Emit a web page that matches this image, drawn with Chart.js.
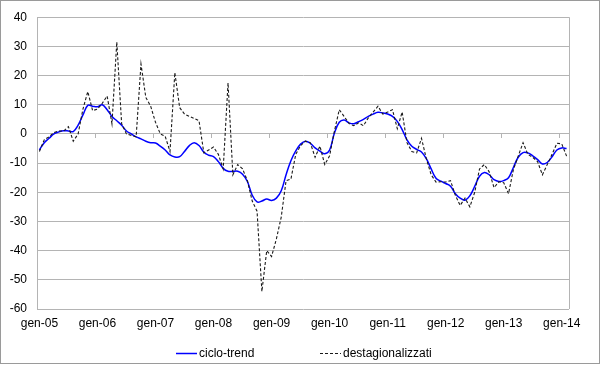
<!DOCTYPE html>
<html>
<head>
<meta charset="utf-8">
<script src="https://cdn.jsdelivr.net/npm/chart.js@4.4.1/dist/chart.umd.min.js"></script>
<style>
  html, body { margin: 0; padding: 0; background: #fff; }
  #wrap { width: 600px; height: 366px; }
</style>
</head>
<body>
<div id="wrap"><canvas id="chart" width="600" height="366"></canvas></div>
<script>
// month names and years used for the category labels
const monthNames = ['gen', 'feb', 'mar', 'apr', 'mag', 'giu', 'lug', 'ago', 'set', 'ott', 'nov', 'dic'];
const years = ['05', '06', '07', '08', '09', '10', '11', '12', '13', '14'];

// values, one per month from gen-05 to feb-14
const cicloTrend = [
  -5.5, -3, -1.5, 0, 0.7, 1.1, 1, 0.8, 3, 6.5, 9.8, 9.5,
  9.3, 10, 8.3, 6, 4.5, 3, 1, 0, -1, -1.7, -2.5, -3,
  -3.1, -4.2, -5.5, -7.2, -7.9, -7.8, -6, -4, -3, -4, -6.3, -7.3,
  -7.8, -9.5, -11.8, -12.8, -12.8, -12.8, -13.8, -16.3, -21, -23.3, -23, -22.3,
  -22.8, -22, -19.5, -14, -9.2, -5.8, -3.5, -2.5, -3.2, -4.8, -5.9, -6.8,
  -5.5, 0.3, 4, 4.8, 3.8, 3.5, 4.2, 5, 6, 6.8, 7.4, 7.2,
  6.8, 6, 4.3, 1.5, -2, -4.2, -5.3, -6.2, -8.5, -12, -15.2, -16.2,
  -17, -17.9, -20.5, -22, -22.7, -21.2, -18, -14.5, -13.2, -14, -15.7, -16.3,
  -16, -15, -11.5, -8, -6.4, -6.5, -7.5, -8.8, -10.3, -9.8, -7.8, -5.5,
  -4.8, -5
];

const destagionalizzati = [
  -6, -2, -1, 0.5, 1, 1, 2.5, -2.5, 0, 8.5, 14.5, 8,
  8.5, 10.5, 13, 3.5, 31.5, 3.5, 0, -0.5, -1, 24, 12.5, 9.5,
  4, 0, -0.8, -6, 21, 9, 6.8, 6, 5.3, 4.5, -6.5, -5.5,
  -4.5, -7, -12, 17.5, -14, -10.5, -12, -16, -23, -26.5, -54, -40,
  -42, -36, -28.5, -16, -15.5, -7, -4, -2.5, -3, -8, -4.2, -10.5,
  -7.5, 1, 8.3, 6, 3.6, 2.8, 3.8, 2.8, 5.5, 7.5, 9.5, 6.8,
  7.5, 8.3, 1.8, 7.5, -3, -6, -6.5, -1.5, -8.5, -14, -16.5, -16.4,
  -16.5, -16, -21, -24.5, -22, -25, -20, -12, -10.5, -13, -18.4, -16.4,
  -16.7, -20.5, -12.2, -7.6, -3, -7, -8, -9.5, -14, -10.5, -7, -3.2,
  -3.4, -7.6
];

const yMin = -60;
const yMax = 40;
const yStep = 10;

// build the month labels (gen-05, feb-05, ...)
const labels = [];
years.forEach(y => {
  monthNames.forEach(m => {
    if (labels.length < cicloTrend.length) labels.push(m + '-' + y);
  });
});

const FONT = "'Liberation Sans', Arial, sans-serif";
const GRID = '#b4b4b4';

Chart.defaults.font.family = FONT;
Chart.defaults.font.size = 12;
Chart.defaults.color = '#000';

// white background, plot frame, tick marks on the zero line, legend, outer border
const excelLook = {
  id: 'excelLook',
  beforeDraw(chart) {
    const ctx = chart.ctx;
    ctx.save();
    ctx.fillStyle = '#fff';
    ctx.fillRect(0, 0, chart.width, chart.height);
    ctx.restore();
  },
  afterDraw(chart) {
    const ctx = chart.ctx;
    const area = chart.chartArea;
    const xs = chart.scales.x;
    const ys = chart.scales.y;
    ctx.save();

    // right edge of the plot area
    ctx.strokeStyle = GRID;
    ctx.lineWidth = 1;
    ctx.beginPath();
    ctx.moveTo(Math.round(area.right) + 0.5, area.top);
    ctx.lineTo(Math.round(area.right) + 0.5, area.bottom);
    ctx.stroke();

    // small tick marks on the zero line, between categories, once a year
    const y0 = Math.round(ys.getPixelForValue(0));
    ctx.beginPath();
    for (let i = 12; i < labels.length; i += 12) {
      const x = Math.round((xs.getPixelForValue(i - 1) + xs.getPixelForValue(i)) / 2) + 0.5;
      ctx.moveTo(x, y0);
      ctx.lineTo(x, y0 + 4);
    }
    ctx.stroke();

    // legend
    const items = [
      { ds: chart.data.datasets[0], x: 176 },
      { ds: chart.data.datasets[1], x: 320 }
    ];
    const ly = 353;
    ctx.font = '12px ' + FONT;
    ctx.textBaseline = 'middle';
    ctx.textAlign = 'left';
    items.forEach(it => {
      ctx.strokeStyle = it.ds.borderColor;
      ctx.lineWidth = it.ds.borderWidth;
      ctx.setLineDash(it.ds.borderDash || []);
      ctx.beginPath();
      ctx.moveTo(it.x, ly + 0.5);
      ctx.lineTo(it.x + 21, ly + 0.5);
      ctx.stroke();
      ctx.setLineDash([]);
      ctx.fillStyle = '#000';
      ctx.fillText(it.ds.label, it.x + 23, ly + 1);
    });

    // outer border of the chart
    ctx.strokeStyle = '#9a9a9a';
    ctx.lineWidth = 1;
    ctx.strokeRect(0.5, 0.5, chart.width - 1, 363);
    ctx.restore();
  }
};

const ctx = document.getElementById('chart').getContext('2d');
new Chart(ctx, {
  type: 'line',
  data: {
    labels: labels,
    datasets: [{
      label: 'ciclo-trend',
      data: cicloTrend,
      borderColor: '#0000ff',
      borderWidth: 1.5,
      tension: 0.4,
      pointRadius: 0,
      order: 1
    }, {
      label: 'destagionalizzati',
      data: destagionalizzati,
      borderColor: '#1a1a1a',
      borderWidth: 1.1,
      borderDash: [3, 2],
      tension: 0,
      pointRadius: 0,
      order: 0
    }]
  },
  options: {
    responsive: false,
    animation: false,
    devicePixelRatio: 1,
    layout: { padding: { top: 16, right: 31, bottom: 32, left: 0 } },
    plugins: {
      legend: { display: false },
      tooltip: { enabled: false }
    },
    scales: {
      x: {
        type: 'category',
        offset: true,
        grid: { display: false, drawTicks: false },
        border: { display: false },
        ticks: {
          autoSkip: false,
          maxRotation: 0,
          minRotation: 0,
          padding: 7,
          font: { size: 12 },
          callback: (val, i) => (i % 12 === 0 ? labels[i] : '')
        },
        afterFit: s => { s.height = 25; }
      },
      y: {
        min: yMin,
        max: yMax,
        grid: { color: GRID, drawTicks: false },
        border: { display: true, color: GRID },
        ticks: { stepSize: yStep, padding: 10, font: { size: 12 } },
        afterFit: s => { s.width = 37; }
      }
    }
  },
  plugins: [excelLook]
});
</script>
</body>
</html>
